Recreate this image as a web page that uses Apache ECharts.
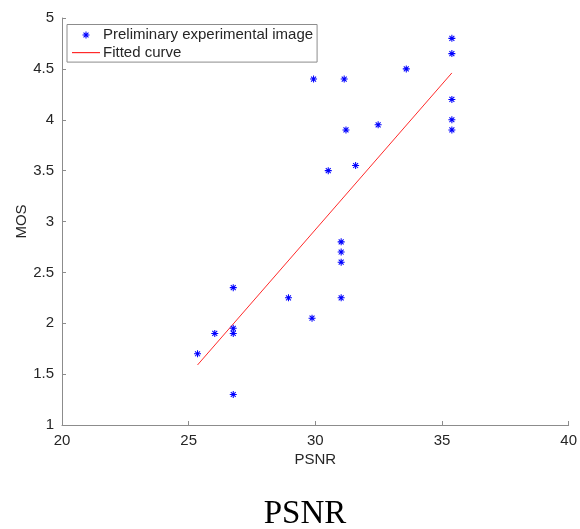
<!DOCTYPE html>
<html>
<head>
<meta charset="utf-8">
<script src="https://cdn.jsdelivr.net/npm/echarts@6/dist/echarts.min.js"></script>
<style>
html,body{margin:0;padding:0;background:#fff;}
#chart{width:580px;height:529px;}
</style>
</head>
<body>
<div id="chart"></div>
<script>
// Data
var psnr = [29.93, 31.14, 33.59, 35.39, 35.39, 35.39, 35.39, 35.39, 31.21, 32.48, 30.51, 31.59,
            31.02, 31.02, 31.02, 31.02, 26.76, 28.94, 29.87, 26.76, 26.76, 26.03, 25.35, 26.76];
var mos  = [4.40, 4.40, 4.50, 4.80, 4.65, 4.20, 4.00, 3.90, 3.90, 3.95, 3.50, 3.55,
            2.80, 2.70, 2.60, 2.25, 2.35, 2.25, 2.05, 1.95, 1.90, 1.90, 1.70, 1.30];
var fitX = [25.35, 35.39];
var fitY = [1.59, 4.46];
var seriesNames = ['Preliminary experimental image', 'Fitted curve'];
var xTitle = 'PSNR';
var yTitle = 'MOS';
var figTitle = 'PSNR';

var star = 'path://M8.5,0L11.5,0L11.5,20L8.5,20Z M0,8.5L20,8.5L20,11.5L0,11.5Z M1.9,4.0L4.0,1.9L18.1,16.0L16.0,18.1Z M16.0,1.9L18.1,4.0L4.0,18.1L1.9,16.0Z';
var lineIcon = 'path://M0,0L28,0L28,1.2L0,1.2Z';

var axisColor = '#8c8c8c';
var textColor = '#262626';
var font = 'Liberation Sans, Arial, sans-serif';

var chart = echarts.init(document.getElementById('chart'), null, {renderer: 'canvas'});
chart.setOption({
  animation: false,
  backgroundColor: '#ffffff',
  grid: {left: 62, right: 10, top: 18, bottom: 104, containLabel: false},
  legend: {
    orient: 'vertical',
    left: 67, top: 24.5,
    padding: [2, 4, 1, 5],
    itemGap: 0.6,
    itemWidth: 28, itemHeight: 7,
    symbolKeepAspect: true,
    backgroundColor: '#ffffff',
    borderColor: axisColor, borderWidth: 1, borderRadius: 0,
    textStyle: {fontFamily: font, fontSize: 15, color: textColor, lineHeight: 17, padding: [0,0,0,-2]},
    data: [{name: seriesNames[0], icon: star}, {name: seriesNames[1], icon: lineIcon}]
  },
  graphic: [{
    type: 'text', x: 305, y: 514,
    style: {text: figTitle, font: '33px "Liberation Serif", "Times New Roman", serif', fill: '#000', textAlign: 'center', textVerticalAlign: 'middle'}
  }],
  xAxis: {
    type: 'value', min: 20, max: 40, interval: 5,
    name: xTitle, nameLocation: 'middle', nameGap: 27, nameMoveOverlap: false,
    nameTextStyle: {fontFamily: font, fontSize: 15, color: textColor},
    axisLine: {show: true, onZero: false, lineStyle: {color: axisColor, width: 1}},
    axisTick: {show: true, inside: true, length: 4, lineStyle: {color: axisColor}},
    axisLabel: {fontFamily: font, fontSize: 15, color: textColor, margin: 8},
    splitLine: {show: false}
  },
  yAxis: {
    type: 'value', min: 1, max: 5, interval: 0.5,
    name: yTitle, nameLocation: 'middle', nameGap: 33, nameRotate: 90, nameMoveOverlap: false,
    nameTextStyle: {fontFamily: font, fontSize: 15, color: textColor},
    axisLine: {show: true, onZero: false, lineStyle: {color: axisColor, width: 1}},
    axisTick: {show: true, inside: true, length: 4, lineStyle: {color: axisColor}},
    axisLabel: {fontFamily: font, fontSize: 15, color: textColor, margin: 8},
    splitLine: {show: false}
  },
  series: [{
    name: seriesNames[0],
    type: 'scatter',
    symbol: star, symbolSize: 7, symbolKeepAspect: true,
    itemStyle: {color: '#0000ff', opacity: 1},
    data: psnr.map(function (x, i) { return [x, mos[i]]; }),
    z: 3
  }, {
    name: seriesNames[1],
    type: 'line',
    symbol: 'none',
    lineStyle: {color: '#ff2a2a', width: 1},
    itemStyle: {color: '#ff2a2a'},
    data: fitX.map(function (x, i) { return [x, fitY[i]]; }),
    z: 2
  }]
});
</script>
</body>
</html>
